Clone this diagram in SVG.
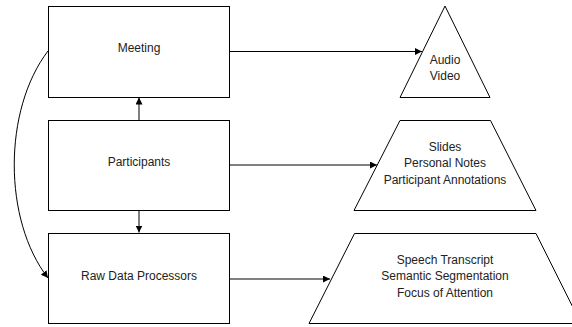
<svg xmlns="http://www.w3.org/2000/svg" width="572" height="327" viewBox="0 0 572 327">
<style>
.box{fill:#fff;stroke:#000;stroke-width:1}
.t{font-family:"Liberation Sans",Arial,sans-serif;font-size:12px;fill:#222;text-anchor:middle}
.c{fill:none;stroke:#000;stroke-width:1}
</style>
<defs>
<marker id="ah" viewBox="0 0 10 10" refX="10" refY="5" markerWidth="7" markerHeight="7" markerUnits="userSpaceOnUse" orient="auto">
<path d="M0,0 L10,5 L0,10 z" fill="#000"/>
</marker>
</defs>
<rect width="572" height="327" fill="#fff"/>
<g id="connectors">
<path class="c" d="M139,120 L139,97.5" marker-end="url(#ah)"/>
<path class="c" d="M139,210 L139,232.5" marker-end="url(#ah)"/>
<path class="c" d="M229,51.5 L422,51.5" marker-end="url(#ah)"/>
<path class="c" d="M229,165 L377,165" marker-end="url(#ah)"/>
<path class="c" d="M229,279 L330,279" marker-end="url(#ah)"/>
<path class="c" d="M48,51 C3,110 3,220 48,278" marker-end="url(#ah)"/>
</g>
<g id="meeting">
<rect class="box" x="48.5" y="6.5" width="181" height="91"/>
<text class="t" x="139" y="52">Meeting</text>
</g>
<g id="participants">
<rect class="box" x="48.5" y="120.5" width="181" height="90"/>
<text class="t" x="139" y="166">Participants</text>
</g>
<g id="raw">
<rect class="box" x="48.5" y="233.5" width="181" height="90"/>
<text class="t" x="139" y="280">Raw Data Processors</text>
</g>
<g id="av">
<polygon class="box" points="445,6 490,97.5 400,97.5"/>
<text class="t" x="445" y="64">Audio</text>
<text class="t" x="445" y="80">Video</text>
</g>
<g id="slides">
<polygon class="box" points="400,120.5 490.5,120.5 536,210.5 354,210.5"/>
<text class="t" x="445" y="151">Slides</text>
<text class="t" x="445" y="167">Personal Notes</text>
<text class="t" x="445" y="184">Participant Annotations</text>
</g>
<g id="speech">
<polygon class="box" points="354.5,233.5 536,233.5 581,323.5 309,323.5"/>
<text class="t" x="445" y="264">Speech Transcript</text>
<text class="t" x="445" y="280">Semantic Segmentation</text>
<text class="t" x="445" y="297">Focus of Attention</text>
</g>
</svg>
